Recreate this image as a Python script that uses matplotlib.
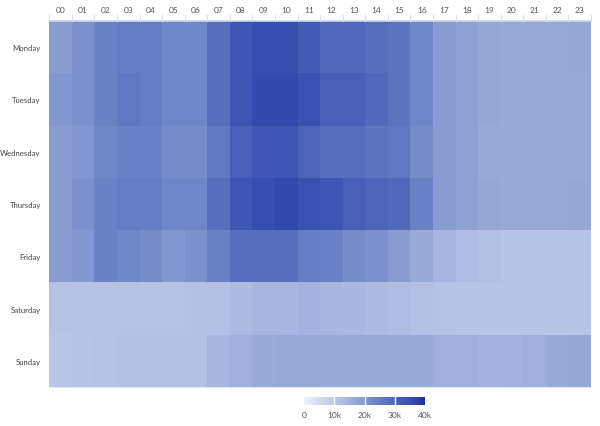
import matplotlib
matplotlib.use("Agg")
import matplotlib.pyplot as plt
import numpy as np
from matplotlib.colors import LinearSegmentedColormap

plt.rcParams["font.family"] = ["Lato", "DejaVu Sans"]

days = ["Monday", "Tuesday", "Wednesday", "Thursday", "Friday", "Saturday", "Sunday"]
hours = ["%02d" % h for h in range(24)]

# values in thousands
monday = [19, 21, 24, 25, 25, 23, 23, 28, 33, 35, 35, 32, 29, 29, 28, 27, 23, 19, 18, 17, 16.5, 16.5, 16.5, 17]
tuesday = [20, 21, 24, 26, 25, 23, 23, 28, 33, 36, 36, 34, 31, 31, 29, 27, 23, 19, 18, 17, 16.5, 16.5, 16.5, 16.5]
wednesday = [19, 20, 23, 24, 24, 22, 22, 26, 31, 33, 33, 30, 28, 28, 27, 26, 22, 19, 18, 16.5, 16.5, 16.5, 16.5, 16.5]
thursday = [19, 21, 24, 25, 25, 23, 23, 28, 33, 35, 36, 34, 33, 31, 30, 29, 24, 19, 18, 17, 16.5, 16.5, 16.5, 17]
friday = [19, 20, 24, 23, 22, 20, 21, 24, 28, 28, 28, 25, 24, 22, 21, 19, 16, 14, 12.5, 12, 11, 11, 11, 11]
saturday = [11.5, 11.5, 11.5, 11.5, 11.5, 11.5, 12, 12, 13, 14, 14, 14.5, 14, 13.5, 13, 12.5, 12, 11.5, 11, 11, 11, 11, 11, 11]
sunday = [10.5, 11, 11.5, 12, 12, 12, 12, 14, 15, 16, 16.5, 16.5, 16, 16, 16, 16, 16, 15, 15, 14.5, 14.5, 15, 16, 17]

data = np.array([monday, tuesday, wednesday, thursday, friday, saturday, sunday]) * 1000

cmap = LinearSegmentedColormap.from_list(
    "blues",
    [(0.0, "#edf0f9"), (0.3, "#b3c0e3"), (0.6, "#6a82c5"), (0.85, "#3b51b1"),
     (0.92, "#3246ab"), (1.0, "#1e2c9c")])

fig = plt.figure(figsize=(6, 4.27), dpi=100)
ax = fig.add_axes([0.082, 0.0913, 0.903, 0.857])
mesh = ax.pcolormesh(data, cmap=cmap, vmin=0, vmax=40000)
ax.set_xlim(0, 24)
ax.set_ylim(7, 0)

ax.xaxis.tick_top()
ax.set_xticks(np.arange(24) + 0.5)
ax.set_xticklabels(hours, fontsize=6, color="#555555")
ax.set_yticks(np.arange(7) + 0.5)
ax.set_yticklabels(days, fontsize=5.6, color="#444444")
ax.tick_params(axis="x", length=0, pad=6)
ax.tick_params(axis="y", length=0, pad=6)
for s in ax.spines.values():
    s.set_visible(False)
ax.axhline(0, color="#ccd5ec", lw=1.2, clip_on=False)
ax.axhline(7, color="#dfe4f2", lw=0.8, clip_on=False)
# small separators above the top edge
for i in range(25):
    ax.plot([i, i], [0, -0.12], color="#d8deef", lw=0.8, clip_on=False)

cax = fig.add_axes([0.507, 0.049, 0.2017, 0.0187])
cb = fig.colorbar(mesh, cax=cax, orientation="horizontal")
cb.set_ticks([0, 10000, 20000, 30000, 40000])
cb.set_ticklabels(["0", "10k", "20k", "30k", "40k"])
cb.ax.tick_params(labelsize=6, labelcolor="#555555", length=0, pad=4)
cb.outline.set_visible(False)
for v in [10000, 20000, 30000]:
    cax.axvline(v, color="white", lw=1)

fig.savefig("out.png", dpi=100)
